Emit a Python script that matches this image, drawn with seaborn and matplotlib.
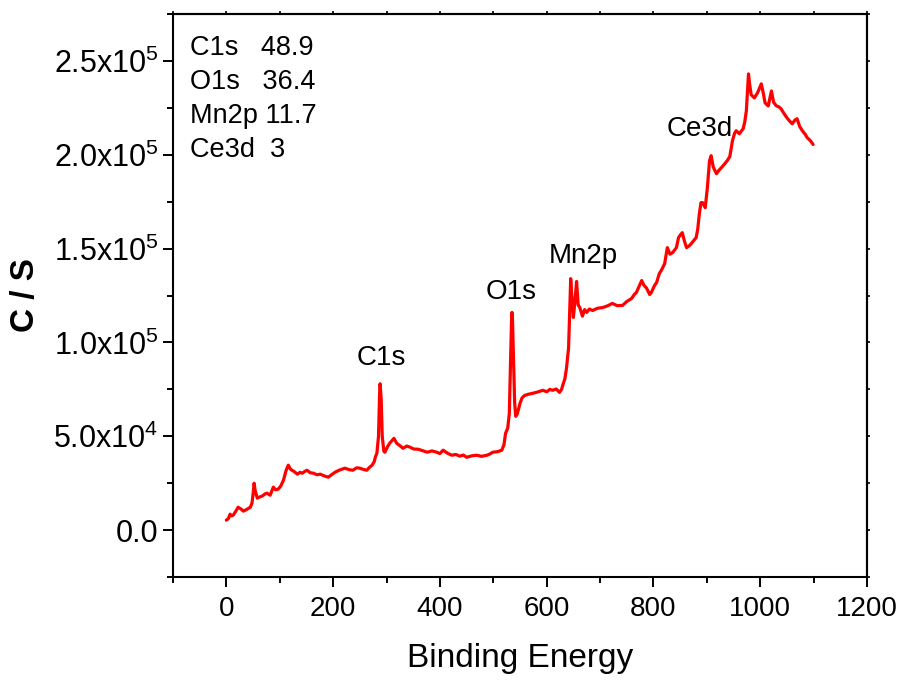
import numpy as np
import pandas as pd
import matplotlib
matplotlib.use("Agg")
import matplotlib.pyplot as plt
import seaborn as sns

# ---- data ----
binding_energy = [
    0, 4, 7, 10, 13, 18, 22, 27, 32, 38, 45, 48, 50, 52, 54, 58, 62, 67, 72, 76, 82, 88, 92, 97,
    102, 107, 112, 116, 120, 123, 128, 133, 138, 142, 147, 151, 157, 163, 170, 176, 184, 191,
    198, 204, 212, 222, 230, 237, 244, 250, 257, 263, 268, 273, 277, 279, 282, 285, 287, 288,
    290, 292, 295, 297, 302, 306, 310, 314, 319, 325, 331, 338, 344, 351, 359, 367, 376, 385,
    394, 400, 406, 414, 422, 430, 437, 444, 450, 460, 469, 478, 488, 494, 499, 508, 516, 520,
    523, 527, 530, 532, 534, 535, 536, 538, 540, 542, 545, 550, 554, 559, 566, 574, 583, 593,
    600, 606, 611, 618, 624, 628, 630, 634, 637, 641, 643, 645, 647, 650, 653, 656, 659, 662,
    667, 671, 675, 680, 686, 695, 705, 714, 723, 732, 742, 750, 759, 764, 768, 773, 778, 782,
    787, 793, 796, 802, 806, 811, 815, 821, 826, 831, 836, 843, 847, 851, 854, 858, 862, 867,
    871, 876, 880, 883, 886, 889, 892, 897, 901, 905, 908, 912, 918, 922, 927, 933, 938, 943,
    948, 952, 955, 961, 968, 971, 974, 976, 978, 980, 983, 989, 995, 1002, 1006, 1009, 1015,
    1021, 1025, 1030, 1035, 1039, 1045, 1050, 1055, 1060, 1065, 1069, 1074, 1079, 1084, 1088,
    1094, 1099,
]
counts = [
    5300, 6200, 8500, 7600, 8000, 10200, 12200, 11300, 10100, 11000, 12200, 14400, 19000, 25000,
    21000, 17000, 17600, 18100, 19200, 19700, 18600, 22900, 21500, 21800, 23500, 26600, 31900,
    34600, 32500, 31900, 31000, 29800, 30800, 30300, 31300, 31900, 30600, 30300, 29500, 29800,
    28800, 28200, 29700, 30900, 32000, 33000, 32200, 31900, 33200, 33000, 32300, 31900, 33400,
    34600, 36500, 38800, 41000, 50000, 72000, 78000, 70000, 50000, 42000, 41500, 44500, 46300,
    47600, 48900, 46300, 45000, 43600, 44800, 44200, 43200, 43100, 42400, 41500, 42200, 41500,
    40800, 42600, 41000, 39900, 40300, 39400, 40000, 38800, 39600, 39900, 39300, 39900, 40600,
    41500, 41800, 42600, 45500, 51600, 54300, 62000, 85000, 110000, 116000, 112000, 90000, 68000,
    60600, 62000, 67500, 70500, 71800, 72400, 72900, 73600, 74500, 73700, 75000, 74500, 75200,
    73400, 75000, 77100, 80500, 86000, 97000, 115000, 134000, 125000, 113300, 122000, 132500,
    120000, 118600, 114000, 117500, 116000, 117800, 117000, 118200, 118600, 119500, 120800,
    119600, 119700, 121800, 123400, 125500, 126600, 129800, 133000, 130500, 129000, 125500,
    126600, 130300, 132000, 136700, 138500, 142000, 150500, 147000, 147900, 150500, 155900,
    157500, 158500, 154000, 150500, 151500, 152700, 154500, 155900, 160500, 168600, 174500,
    174500, 171800, 182500, 196800, 199500, 193500, 189900, 191500, 193100, 195000, 196800,
    199000, 207500, 211500, 212800, 211200, 213900, 217500, 223400, 233000, 243100, 238000,
    232000, 230300, 233000, 237800, 232500, 227700, 226000, 234000, 228000, 226100, 225500,
    224500, 221800, 219700, 218000, 216500, 218500, 219200, 215000, 212800, 211000, 209100,
    207500, 205500,
]

peak_labels = ["C1s", "O1s", "Mn2p", "Ce3d"]
peak_label_x = [290, 533, 669, 886]
peak_label_y = [91500, 127000, 145800, 213900]

composition_lines = ["C1s   48.9", "O1s   36.4", "Mn2p 11.7", "Ce3d  3"]

x_ticks = [0, 200, 400, 600, 800, 1000, 1200]
y_ticks = [0, 50000, 100000, 150000, 200000, 250000]
y_tick_labels = ["0.0", "5.0x10$^{4}$", "1.0x10$^{5}$", "1.5x10$^{5}$",
                 "2.0x10$^{5}$", "2.5x10$^{5}$"]

# ---- style ----
sns.set_theme(style="white")
plt.rcParams["font.family"] = ["Liberation Sans", "DejaVu Sans"]
plt.rcParams["mathtext.default"] = "regular"

fig = plt.figure(figsize=(9.07, 6.84), dpi=100)
ax = fig.add_axes([0.1907, 0.1564, 0.7652, 0.8231])

df = pd.DataFrame({"Binding Energy": binding_energy, "C / S": counts})
sns.lineplot(data=df, x="Binding Energy", y="C / S", ax=ax, color="#ff0000",
             linewidth=2.3, sort=False, estimator=None)

ax.set_xlim(-100, 1200)
ax.set_ylim(-25000, 275000)
ax.set_xticks(x_ticks)
ax.set_xticklabels([str(v) for v in x_ticks])
ax.set_xticks(np.arange(-100, 1201, 100), minor=True)
ax.set_yticks(y_ticks)
ax.set_yticklabels(y_tick_labels)
ax.set_yticks(np.arange(-25000, 275001, 25000), minor=True)

for s in ax.spines.values():
    s.set_visible(True)
    s.set_color("black")
    s.set_linewidth(1.5)

ax.tick_params(axis="both", which="major", direction="out", length=7.5, width=1.4,
               colors="black", pad=4)
ax.tick_params(axis="both", which="minor", direction="out", length=4, width=1.4,
               colors="black")
ax.tick_params(axis="both", which="both", bottom=True, left=True, top=False, right=False)
ax.tick_params(axis="x", which="major", labelsize=20, pad=6)
ax.tick_params(axis="y", which="major", labelsize=22, pad=3)

# short unlabeled ticks on the top and right edges
secx = ax.secondary_xaxis("top")
secx.set_xticks(x_ticks)
secx.set_xticks(np.arange(-100, 1201, 100), minor=True)
secx.tick_params(axis="x", which="both", direction="out", length=2.5, width=1.2,
                 labeltop=False, colors="black")
secy = ax.secondary_yaxis("right")
secy.set_yticks(y_ticks)
secy.set_yticks(np.arange(-25000, 275001, 25000), minor=True)
secy.tick_params(axis="y", which="both", direction="out", length=2.5, width=1.2,
                 labelright=False, colors="black")
for sec in (secx, secy):
    for s in sec.spines.values():
        s.set_linewidth(1.5)
        s.set_color("black")

ax.set_xlabel("Binding Energy", fontsize=24, color="black")
ax.set_ylabel("C / S", fontsize=24, fontweight="bold", color="black")
ax.xaxis.set_label_coords(0.5, -0.118)
ax.yaxis.set_label_coords(-0.19, 0.5)

for lab, lx, ly in zip(peak_labels, peak_label_x, peak_label_y):
    ax.text(lx, ly, lab, fontsize=20, ha="center", va="center", color="black")

ax.text(0.024, 0.962, "\n".join(composition_lines), transform=ax.transAxes,
        fontsize=19.5, ha="left", va="top", linespacing=1.4, color="black")

fig.savefig("out.png", dpi=100)
